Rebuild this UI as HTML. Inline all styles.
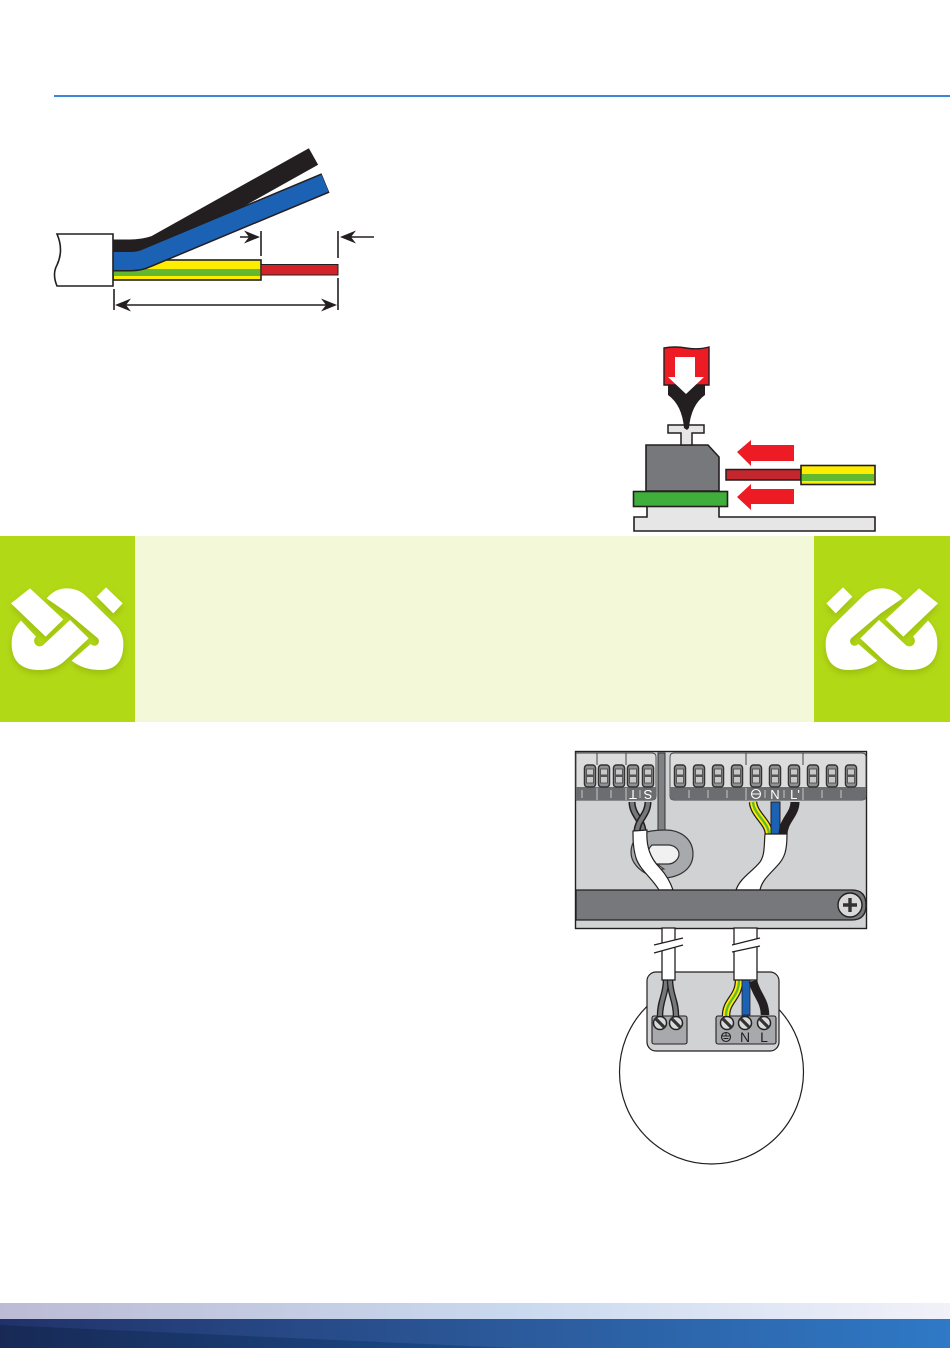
<!DOCTYPE html>
<html><head><meta charset="utf-8"><style>
html,body{margin:0;padding:0;background:#fff;width:950px;height:1348px;overflow:hidden}
svg{display:block}
text{font-family:"Liberation Sans",sans-serif}
</style></head><body>
<svg width="950" height="1348" viewBox="0 0 950 1348" xmlns="http://www.w3.org/2000/svg">
<defs>
<linearGradient id="g1" x1="0" x2="1" y1="0" y2="0"><stop offset="0" stop-color="#bcbbd5"/><stop offset=".55" stop-color="#c9d9ef"/><stop offset="1" stop-color="#f1f1f9"/></linearGradient>
<linearGradient id="g2" x1="0" x2="1" y1="0" y2="0"><stop offset="0" stop-color="#21326a"/><stop offset=".5" stop-color="#2b5797"/><stop offset="1" stop-color="#2f79c6"/></linearGradient>
<linearGradient id="g3" x1="0" x2="1" y1="0" y2="0"><stop offset="0" stop-color="#182955"/><stop offset="1" stop-color="#1b4d8c"/></linearGradient>
<filter id="sh" x="-20%" y="-20%" width="140%" height="150%"><feDropShadow dx="0" dy="10" stdDeviation="10" flood-color="#7f9a10" flood-opacity=".45"/></filter>
<g id="logo" fill="#fff" filter="url(#sh)">
<polygon points="33,220 90,175 190,268 137,320"/>
<path d="M63,272 L108,320 A13,13 0 0 0 130,345 L210,270 L266,325 L195,392 Q165,420 120,420 Q35,420 35,340 Q35,300 63,272Z"/>
<path d="M140,205 Q165,175 200,175 Q235,175 258,198 L350,288 Q370,310 370,342 Q370,420 300,420 Q250,420 215,392 L272,342 A13,13 0 0 0 294,325 L205,250Z"/>
<polygon points="290,200 318,172 368,220 340,250"/>
</g>
<g id="ct"><rect x="-5.5" y="0" width="11" height="22" rx="3" fill="#8f9093" stroke="#333" stroke-width="1.5"/><rect x="-3.5" y="4" width="7" height="14" fill="#c8c8c8" stroke="#444" stroke-width=".8"/><rect x="-3.5" y="9.5" width="7" height="2.5" fill="#555"/></g>
<g id="sc"><circle r="6.5" fill="#d9d9d9" stroke="#222" stroke-width="1.5"/><line x1="-4.5" y1="-4.5" x2="4.5" y2="4.5" stroke="#333" stroke-width="3.2"/></g>
</defs>

<rect x="54" y="95" width="896" height="2" fill="#3c86d6"/>

<!-- cable stripping diagram -->
<rect x="113" y="260" width="148" height="20" fill="#ffed00" stroke="#231f20" stroke-width="1.6"/>
<rect x="113" y="269" width="147" height="7" fill="#62b82f"/>
<rect x="261" y="264.5" width="77" height="10.5" fill="#d2232a" stroke="#231f20" stroke-width="1"/>
<path d="M113,249 H130 Q143,249 155,245 L313.5,156.5" fill="none" stroke="#231f20" stroke-width="19"/>
<path d="M113,261 H130 Q140,261 147,257.5 L325.5,183" fill="none" stroke="#231f20" stroke-width="21"/>
<path d="M113,261 H130 Q140,261 147,257.5 L325,183.2" fill="none" stroke="#1c62b4" stroke-width="18"/>
<path d="M57,234 H113 V286 H57 Q52,274 57,265 Q64,250 57,234Z" fill="#fff" stroke="#231f20" stroke-width="1.6"/>
<g stroke="#231f20" stroke-width="1.6" fill="#231f20">
<line x1="261" y1="231" x2="261" y2="256"/>
<line x1="338" y1="231" x2="338" y2="258"/>
<line x1="338" y1="278" x2="338" y2="310"/>
<line x1="114" y1="289" x2="114" y2="310"/>
<line x1="240" y1="237" x2="258" y2="237"/>
<line x1="345" y1="237" x2="374" y2="237"/>
<line x1="120" y1="305" x2="332" y2="305"/>
<polygon stroke="none" points="260,237 244,230.5 249,237 244,243.5"/>
<polygon stroke="none" points="340,237 356,230.5 351,237 356,243.5"/>
<polygon stroke="none" points="115,305 131,298.5 126,305 131,311.5"/>
<polygon stroke="none" points="337,305 321,298.5 326,305 321,311.5"/>
</g>

<!-- crimp diagram -->
<path d="M634,517 H647 V506 H719 V517 H875 V531 H634Z" fill="#e6e6e7" stroke="#231f20" stroke-width="1.6"/>
<path d="M646,491 V445 H708 L719,457 V491Z" fill="#77787b" stroke="#231f20" stroke-width="1.6"/>
<rect x="633.5" y="491.5" width="94" height="15" fill="#3fae3a" stroke="#231f20" stroke-width="1.6"/>
<path d="M681,433 V445 H692 V433 H704 V425 H668 V433Z" fill="#e6e6e7" stroke="#231f20" stroke-width="1.5"/>
<path d="M668,384 V395 Q682,405 684,428 L687,430 L689,428 Q691,405 705,395 V384Z" fill="#231f20"/>
<path d="M664,348 Q675,346 686,348 Q698,350 709,347 V385 H664Z" fill="#ed1c24" stroke="#231f20" stroke-width="1.4"/>
<polygon points="675,357 695,357 695,377 704,377 686,394 668,377 675,377" fill="#fff"/>
<polygon points="737,452 751,440 751,445 794,445 794,461 751,461 751,466" fill="#ed1c24"/>
<polygon points="737,497 751,484 751,489 794,489 794,504 751,504 751,510" fill="#ed1c24"/>
<rect x="726" y="469.5" width="75" height="10.5" fill="#c4262e" stroke="#231f20" stroke-width="1.5"/>
<rect x="801" y="465.5" width="74" height="19" fill="#ffed00" stroke="#231f20" stroke-width="1.6"/>
<rect x="802" y="474" width="72" height="7" fill="#62b82f"/>

<!-- green band -->
<rect x="135" y="536" width="679" height="186" fill="#f2f8d8"/>
<rect x="0" y="536" width="135" height="186" fill="#b2d916"/>
<rect x="814" y="536" width="136" height="186" fill="#b2d916"/>
<use href="#logo" transform="translate(0,530) scale(.3333)"/>
<use href="#logo" transform="translate(949,530) scale(-.3333,.3333)"/>

<!-- junction box -->
<rect x="575.5" y="751.5" width="291" height="177" fill="#d1d2d4" stroke="#231f20" stroke-width="1.4"/>
<path d="M576,753 H652 Q656,753 656,757 V796 Q656,800 652,800 H576Z" fill="#dcdcdd" stroke="#444" stroke-width=".9"/>
<path d="M576,787 H656 V796 Q656,800 652,800 H576Z" fill="#6c6d70"/>
<path d="M674,753 H862 Q866,753 866,757 V796 Q866,800 862,800 H674 Q670,800 670,796 V757 Q670,753 674,753Z" fill="#dcdcdd" stroke="#444" stroke-width=".9"/>
<path d="M670,787 H866 V796 Q866,800 862,800 H674 Q670,800 670,796Z" fill="#6c6d70"/>
<g>
<use href="#ct" x="590" y="765"/><use href="#ct" x="604" y="765"/><use href="#ct" x="619" y="765"/><use href="#ct" x="633" y="765"/><use href="#ct" x="648" y="765"/>
<use href="#ct" x="680" y="765"/><use href="#ct" x="699" y="765"/><use href="#ct" x="718" y="765"/><use href="#ct" x="737" y="765"/><use href="#ct" x="756" y="765"/><use href="#ct" x="775" y="765"/><use href="#ct" x="794" y="765"/><use href="#ct" x="813" y="765"/><use href="#ct" x="832" y="765"/><use href="#ct" x="851" y="765"/>
</g>
<g stroke="#333" stroke-width=".9">
<line x1="597" y1="753" x2="597" y2="765"/><line x1="626" y1="753" x2="626" y2="765"/>
<line x1="746" y1="753" x2="746" y2="765"/><line x1="803" y1="753" x2="803" y2="765"/>
</g>
<g stroke="#ddd" stroke-width=".8">
<line x1="582" y1="790" x2="582" y2="798"/><line x1="597" y1="788" x2="597" y2="800"/><line x1="611" y1="790" x2="611" y2="798"/><line x1="626" y1="788" x2="626" y2="800"/><line x1="640" y1="790" x2="640" y2="798"/>
<line x1="689" y1="790" x2="689" y2="798"/><line x1="708" y1="790" x2="708" y2="798"/><line x1="727" y1="790" x2="727" y2="798"/><line x1="746" y1="788" x2="746" y2="800"/><line x1="765" y1="790" x2="765" y2="798"/><line x1="784" y1="790" x2="784" y2="798"/><line x1="803" y1="788" x2="803" y2="800"/><line x1="822" y1="790" x2="822" y2="798"/><line x1="841" y1="790" x2="841" y2="798"/>
</g>
<g fill="#fff" font-size="13" text-anchor="middle">
<text transform="translate(633,789) rotate(180)" y="0" dy="-1">T</text>
<text transform="translate(648,789) rotate(180)" y="0" dy="-1">S</text>
<text x="775" y="799">N</text>
<text x="795" y="799">L'</text>
</g>
<circle cx="756" cy="794" r="4.5" fill="none" stroke="#fff" stroke-width="1.1"/><line x1="751.5" y1="794" x2="760.5" y2="794" stroke="#fff"/>

<!-- loop -->
<rect x="658" y="753" width="7" height="80" fill="#808184" stroke="#333" stroke-width="1"/>
<path d="M640,834 Q650,830 665,830 C682,830 693,840 693,854 C693,870 678,878 662,878 C650,878 631,868 631,852 Q631,842 640,834Z" fill="#a7a9ac" stroke="#333" stroke-width="1.2"/>
<path d="M640,843 Q634,848 635,853 C636,862 650,870 664,869 Q650,860 645,843Z" fill="#d1d2d4" stroke="#333" stroke-width="1"/>
<path d="M652,845 H668 C674,845 679,849 679,854 C679,859 674,864 668,864 H654 C648,860 646,850 652,845Z" fill="#f1f1f2" stroke="#333" stroke-width="1.2"/>
<!-- left dark wires -->
<path d="M632,802 C632,815 643,820 643,832" fill="none" stroke="#231f20" stroke-width="7"/>
<path d="M632,802 C632,815 643,820 643,832" fill="none" stroke="#77787b" stroke-width="4"/>
<path d="M648,802 C648,815 637,820 637,832" fill="none" stroke="#231f20" stroke-width="7"/>
<path d="M648,802 C648,815 637,820 637,832" fill="none" stroke="#77787b" stroke-width="4"/>
<path d="M633,831 L647,830 C646,846 650,858 660,868 Q669,878 673,890 H659 C652,878 640,870 636,858 C633,848 633,840 633,831Z" fill="#fff" stroke="#231f20" stroke-width="1.2"/>
<!-- right wires -->
<path d="M753,802 C754,815 769,822 769,835" fill="none" stroke="#231f20" stroke-width="8.5"/>
<path d="M753,802 C754,815 769,822 769,835" fill="none" stroke="#ffed00" stroke-width="6"/>
<path d="M753,802 C754,815 769,822 769,835" fill="none" stroke="#62b82f" stroke-width="2.4"/>
<rect x="771" y="802" width="9" height="33" fill="#1c62b4" stroke="#231f20" stroke-width="1"/>
<path d="M795,802 C795,815 783,820 783,835" fill="none" stroke="#231f20" stroke-width="9"/>
<path d="M765,834 H787 C787,850 785,858 777,866 C770,874 762,880 760,890 H736 C740,878 752,872 760,862 C765,855 764,845 765,834Z" fill="#fff" stroke="#231f20" stroke-width="1.2"/>
<!-- band -->
<path d="M576,890 H852 Q866,890 866,905 Q866,920 852,920 H576Z" fill="#77787b" stroke="#231f20" stroke-width="1.3"/>
<circle cx="850" cy="905" r="12" fill="#d8d8d9" stroke="#231f20" stroke-width="1.4"/>
<path d="M843,905 H857 M850,898 V912" stroke="#333" stroke-width="3.4" fill="none"/>

<!-- ceiling rose -->
<circle cx="711.5" cy="1072" r="92" fill="#fff" stroke="#231f20" stroke-width="1.2"/>
<rect x="647" y="972" width="132" height="79" rx="9" fill="#d1d2d4" stroke="#231f20" stroke-width="1.2"/>
<rect x="652" y="1016" width="35" height="28" rx="2" fill="#a7a9ac" stroke="#231f20" stroke-width="1.1"/>
<rect x="716" y="1016" width="60" height="28" rx="2" fill="#a7a9ac" stroke="#231f20" stroke-width="1.1"/>
<path d="M666,980 C666,995 660,1000 660,1016" fill="none" stroke="#231f20" stroke-width="6.5"/>
<path d="M666,980 C666,995 660,1000 660,1016" fill="none" stroke="#77787b" stroke-width="3.8"/>
<path d="M670,980 C670,995 676,1000 676,1016" fill="none" stroke="#231f20" stroke-width="6.5"/>
<path d="M670,980 C670,995 676,1000 676,1016" fill="none" stroke="#77787b" stroke-width="3.8"/>
<path d="M739,980 C739,998 726,1000 726,1016" fill="none" stroke="#231f20" stroke-width="8.5"/>
<path d="M739,980 C739,998 726,1000 726,1016" fill="none" stroke="#ffed00" stroke-width="6"/>
<path d="M739,980 C739,998 726,1000 726,1016" fill="none" stroke="#62b82f" stroke-width="2.4"/>
<rect x="742" y="980" width="8" height="35" fill="#1c62b4" stroke="#231f20" stroke-width=".8"/>
<path d="M753,981 C756,995 765,1000 765,1015" fill="none" stroke="#231f20" stroke-width="8.5"/>
<use href="#sc" x="660" y="1023"/><use href="#sc" x="676" y="1023"/>
<use href="#sc" x="727" y="1023"/><use href="#sc" x="745" y="1023"/><use href="#sc" x="764" y="1023"/>
<circle cx="726" cy="1037" r="4.5" fill="none" stroke="#231f20" stroke-width="1.1"/><path d="M722,1036 H730 M723.5,1038.5 H728.5 M726,1033 V1036" stroke="#231f20" stroke-width="1"/>
<text x="745" y="1042" font-size="14" text-anchor="middle" fill="#231f20">N</text>
<text x="764" y="1042" font-size="14" text-anchor="middle" fill="#231f20">L</text>

<!-- cables -->
<rect x="662" y="928" width="13" height="52" fill="#fff" stroke="#231f20" stroke-width="1.3"/>
<rect x="734" y="928" width="23" height="52" fill="#fff" stroke="#231f20" stroke-width="1.3"/>
<polygon points="654,945 683,938 683,945 654,953" fill="#fff"/>
<polygon points="732,945 760,938 760,946 732,952" fill="#fff"/>
<g stroke="#231f20" stroke-width="1.2">
<line x1="654" y1="945" x2="683" y2="938"/><line x1="654" y1="953" x2="683" y2="945"/>
<line x1="732" y1="945" x2="760" y2="938"/><line x1="732" y1="952" x2="760" y2="946"/>
</g>

<!-- footer -->
<rect x="0" y="1303" width="950" height="16" fill="url(#g1)"/>
<rect x="0" y="1319" width="950" height="29" fill="url(#g2)"/>
<polygon points="0,1325 515,1348 0,1348" fill="url(#g3)"/>
</svg>
</body></html>
